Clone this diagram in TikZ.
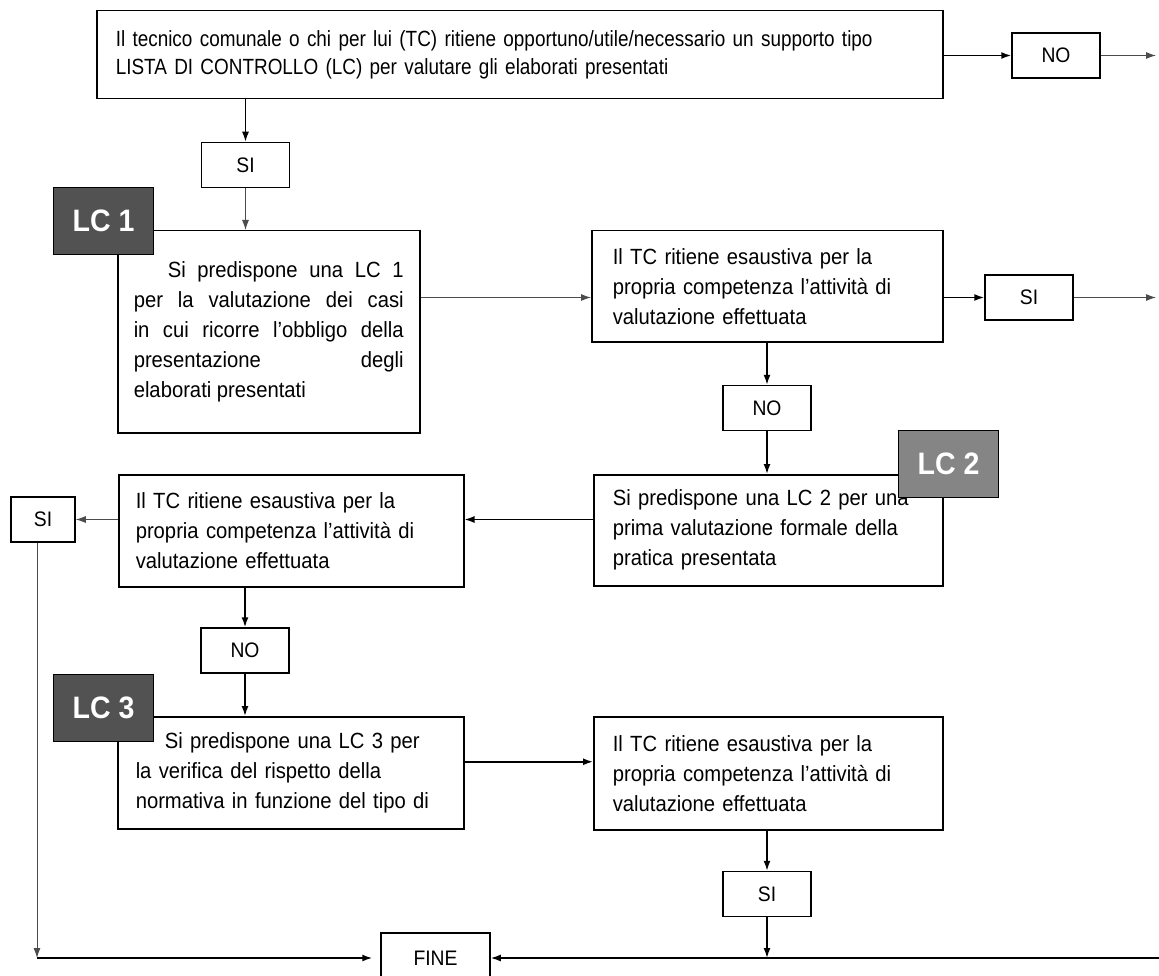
\documentclass[tikz,border=0pt]{standalone}
\usepackage{fontspec}
\setmainfont{Liberation Sans}[FakeStretch=0.92]
\newfontfamily\narrowfont{Liberation Sans}[FakeStretch=0.86]
\usetikzlibrary
  {
    positioning,  % place nodes relative to other nodes
    arrows.meta,  % sized arrow heads
  }

\tikzset{
  flowbox/.style={draw, line width=1.5pt, anchor=north west, inner xsep=18pt,
    inner ysep=0pt, align=left, font=\fontsize{22}{30}\selectfont},
  answer/.style={draw, line width=1.5pt, minimum width=88pt, minimum height=45pt,
    inner sep=0pt, font=\fontsize{21}{24}\selectfont},
  lctag/.style={draw=black, line width=1.2pt, anchor=north west, minimum width=100pt,
    minimum height=67pt, inner sep=0pt, text=white, font=\bfseries\fontsize{31}{31}\selectfont},
  arr/.style={-{Latex[length=10pt,width=7pt]}, line width=1.5pt},
  thinarr/.style={arr, line width=1pt, gray!60!black},
}

\begin{document}
\begin{tikzpicture}[x=1pt, y=-1pt]
    \clip (0,0) rectangle (1159,976);

    % question and first answers
    \node (ask) [flowbox, minimum width=846pt, minimum height=88pt, inner xsep=19pt, text width=808pt,
      font=\narrowfont\fontsize{22}{28}\selectfont] at (96,10)
      {Il tecnico comunale o chi per lui (TC) ritiene opportuno/utile/necessario un supporto tipo\\
       LISTA DI CONTROLLO (LC) per valutare gli elaborati presentati};
    \node (notop) [answer] at (1056,55.5) {NO};
    \node (si1) [answer] at (245.5,165) {SI};
    \coordinate (outA) at (1156,55.5);

    % LC 1
    \node (lc1box) [flowbox, minimum width=302pt, minimum height=202pt, inner xsep=16pt, text width=270pt, align=justify] at (117,230)
      {\hspace*{34pt}Si predispone una LC 1\linebreak
       per la valutazione dei casi\linebreak
       in cui ricorre l'obbligo della\linebreak
       presentazione degli\linebreak
       elaborati presentati\par\vspace{18pt}};
    \node (lc1tag) [lctag, fill=black!68] at (53,187) {LC 1};

    \node (evalA) [flowbox, minimum width=351pt, minimum height=111pt, inner xsep=21pt, text width=309pt] at (591,230)
      {Il TC ritiene esaustiva per la\\ propria competenza l'attività di\\ valutazione effettuata};
    \node (siR) [answer] at (1029,297.5) {SI};
    \coordinate (outB) at (1156,297.5);
    \node (noM) [answer] at (767,408) {NO};

    % LC 2
    \node (lc2box) [flowbox, minimum width=349pt, minimum height=111pt, inner xsep=19pt, text width=311pt] at (593,474)
      {Si predispone una LC 2 per una\\ prima valutazione formale della\\ pratica presentata};
    \node (lc2tag) [lctag, fill=black!48] at (898,430) {LC 2};

    \node (evalB) [flowbox, minimum width=345pt, minimum height=112pt, inner xsep=17pt, text width=311pt] at (118,474)
      {Il TC ritiene esaustiva per la\\ propria competenza l'attività di\\ valutazione effettuata};
    \node (siL) [answer, minimum width=64pt] at (43,519.5) {SI};
    \node (noL) [answer] at (245,650.5) {NO};

    % LC 3
    \node (lc3box) [flowbox, minimum width=346pt, minimum height=112pt, text width=310pt] at (117,716)
      {\hspace*{29pt}Si predispone una LC 3 per\\ la verifica del rispetto della\\ normativa in funzione del tipo di};
    \node (lc3tag) [lctag, fill=black!68] at (53,674) {LC 3};

    \node (evalC) [flowbox, minimum width=349pt, minimum height=113pt, inner xsep=19pt, text width=311pt] at (593,716)
      {Il TC ritiene esaustiva per la\\ propria competenza l'attività di\\ valutazione effettuata};
    \node (siB) [answer] at (767,894) {SI};
    \node (fine) [answer, minimum width=109pt, minimum height=50pt] at (435.5,958) {FINE};
    \coordinate (inR) at (1162,958);

    % connectors
    \draw[arr] (ask.east |- notop) -- (notop.west);
    \draw[thinarr] (notop.east) -- (outA);
    \draw[arr] (ask.south -| si1) -- (si1.north);
    \draw[thinarr] (si1.south) -- (si1.south |- lc1box.north);
    \draw[thinarr] (lc1box.east |- siR) -- (evalA.west |- siR);
    \draw[arr] (evalA.east |- siR) -- (siR.west);
    \draw[thinarr] (siR.east) -- (outB);
    \draw[arr] (evalA.south -| noM) -- (noM.north);
    \draw[arr] (noM.south) -- (noM.south |- lc2box.north);
    \draw[arr] (lc2box.west |- siL) -- (evalB.east |- siL);
    \draw[thinarr] (evalB.west |- siL) -- (siL.east);
    \draw[arr] (evalB.south -| noL) -- (noL.north);
    \draw[arr] (noL.south) -- (noL.south |- lc3box.north);
    \draw[arr] ([yshift=11pt]lc3box.east) -- ([yshift=11pt]lc3box.east -| evalC.west);
    \draw[arr] (evalC.south -| siB) -- (siB.north);
    \draw[arr] (siB.south) -- (siB.south |- fine);
    \coordinate (turn) at ([xshift=-6pt]siL.south |- fine);
    \draw[thinarr] ([xshift=-6pt]siL.south) -- (turn);
    \draw[arr] (turn) -- ([xshift=-8pt]fine.west);
    \draw[arr] (inR) -- (fine.east);
\end{tikzpicture}
\end{document}
